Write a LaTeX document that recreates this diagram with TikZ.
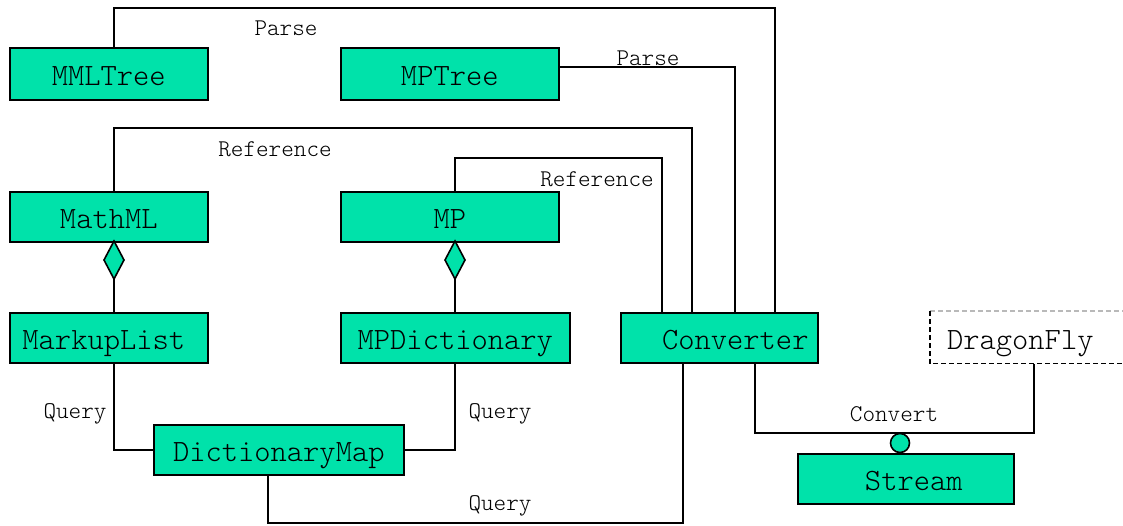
\documentclass[tikz,border=0pt]{standalone}
\usepackage{fontspec}
\setmonofont{Latin Modern Mono Light}
\definecolor{boxgreen}{RGB}{0,226,170}
\begin{document}
\begin{tikzpicture}[x=1pt,y=-1pt,
  box/.style={draw, line width=1.6pt, fill=boxgreen, inner sep=0pt,
    font=\fontsize{31}{31}\selectfont\ttfamily, text height=24pt, text depth=0pt,
    anchor=north west},
  wire/.style={line width=1.6pt},
  lbl/.style={font=\fontsize{24}{24}\selectfont\ttfamily, inner sep=0pt}]
\useasboundingbox (0,0) rectangle (1123,525);

% classes
\node[box, minimum width=198pt, minimum height=52pt] (mmltree) at (9,47) {MMLTree};
\node[box, minimum width=218pt, minimum height=52pt] (mptree) at (340,47) {MPTree};
\node[box, minimum width=198pt, minimum height=50pt] (mathml) at (9,191) {MathML};
\node[box, minimum width=218pt, minimum height=50pt] (mp) at (340,191) {MP};
\node[box, minimum width=198pt, minimum height=50pt] (markuplist) at (9,312) {MarkupList\hspace*{10pt}};
\node[box, minimum width=229pt, minimum height=50pt] (mpdict) at (340,312) {MPDictionary};
\node[box, minimum width=197pt, minimum height=50pt] (converter) at (620,312) {\hspace*{32pt}Converter};
\node[box, minimum width=250pt, minimum height=50pt] (dictmap) at (153,424) {DictionaryMap};
\node[box, minimum width=216pt, minimum height=50pt] (stream) at (797,453) {\hspace*{16pt}Stream};

% external component, partly outlined
\node[box, draw=none, fill=none, minimum width=193pt, minimum height=51pt] (dragonfly) at (930,311) {DragonFly\hspace*{14pt}};
\draw[line width=1.2pt, gray!55, dash pattern=on 5pt off 3pt] (dragonfly.north west) -- (dragonfly.north east);
\draw[wire, dash pattern=on 5pt off 3pt] (dragonfly.north west) -- (dragonfly.south west) -- (dragonfly.south east);

% parse relations
\draw[wire] ([xshift=105pt]mmltree.north west) |- (775,8) -- ([xshift=155pt]converter.north west);
\draw[wire] ([yshift=-20pt]mptree.north east) -| ([xshift=115pt]converter.north west);
\node[lbl] (parse1) at (286,28) {Parse};
\node[lbl] (parse2) at (648,58) {Parse};

% reference relations
\draw[wire] ([xshift=105pt]mathml.north west) |- (692,128) -- ([xshift=72pt]converter.north west);
\draw[wire] ([xshift=115pt]mp.north west) |- (662,158) -- ([xshift=42pt]converter.north west);
\node[lbl] (ref1) at (275,149) {Reference};
\node[lbl] (ref2) at (597,179) {Reference};

% aggregations
\draw[wire] ([xshift=105pt]mathml.south west) -- ([xshift=105pt]markuplist.north west);
\draw[wire] ([xshift=115pt]mp.south west) -- ([xshift=115pt]mpdict.north west);
\draw[wire, fill=boxgreen] (114,241) -- (124,260) -- (114,279) -- (104,260) -- cycle;
\draw[wire, fill=boxgreen] (455,241) -- (465,260) -- (455,279) -- (445,260) -- cycle;

% queries
\draw[wire] ([xshift=105pt]markuplist.south west) |- (dictmap.west);
\draw[wire] ([xshift=115pt]mpdict.south west) |- (dictmap.east);
\draw[wire] ([xshift=115pt]dictmap.south west) |- (683,523) -- ([xshift=63pt]converter.south west);
\node[lbl] (q1) at (75,414) {Query};
\node[lbl] (q2) at (500,414) {Query};
\node[lbl] (q3) at (500,506) {Query};

% convert relation with provided interface
\coordinate (cv) at (900,433);
\draw[wire] ([xshift=135pt]converter.south west) |- (cv) -| ([xshift=104pt]dragonfly.south west);
\node[lbl] (conv) at (894,414) {Convert};
\node[circle, draw, line width=1.6pt, fill=boxgreen, minimum size=19pt, inner sep=0pt] (sock) at (900,443) {};
\draw[wire] (sock.south) -- (stream.north -| sock.south);
\end{tikzpicture}
\end{document}
